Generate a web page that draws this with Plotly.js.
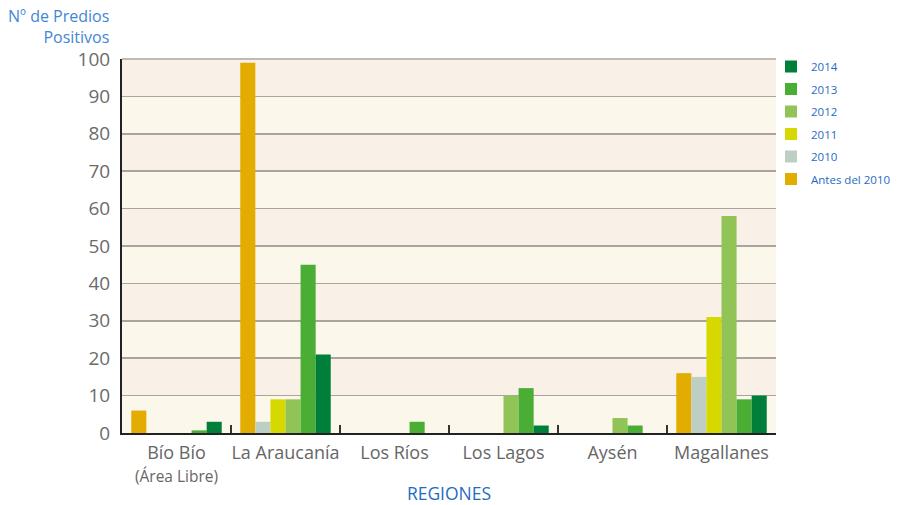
<!DOCTYPE html>
<html><head><meta charset="utf-8">
<script src="https://cdn.plot.ly/plotly-3.0.1.min.js"></script>
<style>body{margin:0;background:#fff}#c{width:897px;height:505px}</style>
</head><body><div id="c"></div>
<script>
const regiones = ["Bío Bío<br><span style='font-size:15.5px'>(Área Libre)</span>", "La Araucanía", "Los Ríos", "Los Lagos", "Aysén", "Magallanes"];
const series = ["Antes del 2010", "2010", "2011", "2012", "2013", "2014"];
const antes2010 = [6, 99, 0, 0, 0, 16];
const v2010 = [0, 3, 0, 0, 0, 15];
const v2011 = [0, 9, 0, 0, 0, 31];
const v2012 = [0, 9, 0, 10, 4, 58];
const v2013 = [0.7, 45, 3, 12, 2, 9];
const v2014 = [3, 21, 0, 2, 0, 10];
const colors = ["#e2ad00", "#bdcfc4", "#d6d800", "#92c356", "#4aae34", "#007f3a"];
const values = [antes2010, v2010, v2011, v2012, v2013, v2014];
const yTicks = [0,10,20,30,40,50,60,70,80,90,100];

const traces = series.map((s, i) => ({
  type: "bar", name: s, x: regiones, y: values[i],
  marker: {color: colors[i], line: {width: 0}},
  legendgroup: "g" + i, legendrank: 100 - i, hoverinfo: "x+y+name"
}));

const shapes = [];
for (let k = 0; k < 10; k++) {
  shapes.push({type: "rect", xref: "paper", yref: "y", x0: 0, x1: 1, y0: k*10, y1: (k+1)*10,
    fillcolor: (k % 2 === 0) ? "#fbf7ea" : "#f9f1e7", line: {width: 0}, layer: "below"});
}
shapes.push({type: "line", xref: "paper", yref: "paper", x0: 0, x1: 1, y0: 1, y1: 1, line: {color: "#bdbbb6", width: 2}});

const layout = {
  width: 897, height: 505,
  margin: {l: 122, r: 121, t: 59, b: 72, autoexpand: false},
  paper_bgcolor: "#ffffff", plot_bgcolor: "rgba(0,0,0,0)",
  barmode: "group", bargap: 0.17, bargroupgap: 0,
  font: {family: "Open Sans, sans-serif", color: "#666666"},
  xaxis: {
    tickfont: {size: 18, color: "#666666"}, tickangle: 0, automargin: false,
    ticks: "inside", tickson: "boundaries", ticklen: 8, tickcolor: "#333333", tickwidth: 2,
    showline: true, linecolor: "#222222", linewidth: 2, ticklabelstandoff: 2,
    title: {text: "REGIONES", font: {size: 17.5, color: "#1f6bc4"}, standoff: 12},
    fixedrange: true
  },
  yaxis: {
    range: [0, 100], tickvals: yTicks, automargin: false,
    tickfont: {size: 19, color: "#6b6b6b"},
    showgrid: true, gridcolor: "#a8a59f", gridwidth: 1.5,
    showline: true, linecolor: "#222222", linewidth: 2,
    zeroline: false, ticks: "", ticklabelstandoff: 6
  },
  legend: {
    xref: "container", yref: "container",
    x: 771/897, xanchor: "left", y: 1 - 52/505, yanchor: "top",
    traceorder: "grouped", tracegroupgap: 3.5,
    font: {size: 11.5, color: "#1f6bc4"}, bgcolor: "rgba(0,0,0,0)"
  },
  shapes: shapes,
  annotations: [{
    xref: "paper", yref: "paper",
    x: (111 - 122) / (897 - 122 - 121), xanchor: "right",
    y: 1 + (59 - 3) / (505 - 59 - 72), yanchor: "top",
    text: "Nº de Predios<br>Positivos", showarrow: false, align: "right",
    font: {size: 16, color: "#3f86d6"}
  }],
  showlegend: true
};

Plotly.newPlot("c", traces, layout, {displayModeBar: false, staticPlot: true});
</script></body></html>
